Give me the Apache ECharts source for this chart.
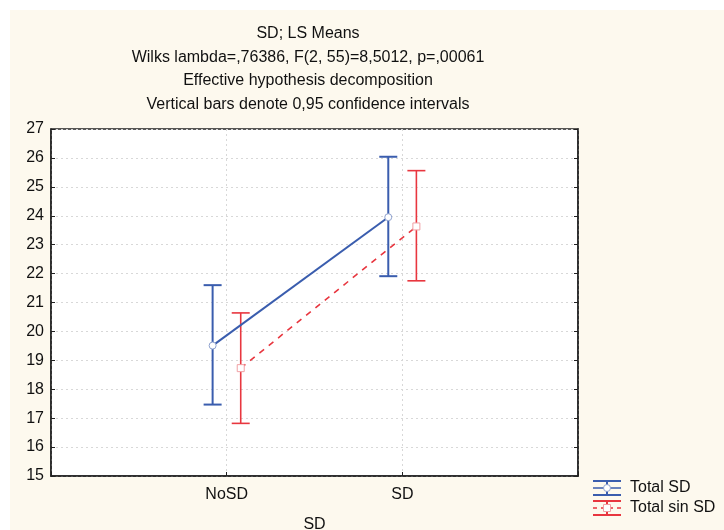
<!DOCTYPE html>
<html>
<head>
<meta charset="utf-8">
<script src="https://cdn.jsdelivr.net/npm/echarts@6/dist/echarts.min.js"></script>
<style>
html,body{margin:0;padding:0;background:#fff;}
#c{width:724px;height:530px;}
</style>
</head>
<body>
<div id="c"></div>
<script>
// ---- data ----
const categories = ['NoSD', 'SD'];
const seriesNames = ['Total SD', 'Total sin SD'];
const totalSDMean = [19.51, 23.95];
const totalSDLow = [17.47, 21.91];
const totalSDHigh = [21.60, 26.04];
const sinSDMean = [18.73, 23.63];
const sinSDLow = [16.82, 21.75];
const sinSDHigh = [20.64, 25.56];
const yTicks = [15, 16, 17, 18, 19, 20, 21, 22, 23, 24, 25, 26, 27];
const titleLines = [
  'SD; LS Means',
  'Wilks lambda=,76386, F(2, 55)=8,5012, p=,00061',
  'Effective hypothesis decomposition',
  'Vertical bars denote 0,95 confidence intervals'
];
const xAxisName = 'SD';

// ---- styles ----
const BLUE = '#3a5dae';
const RED = '#e8363f';
const FONT = '"Liberation Sans", Arial, sans-serif';
const FS = 16;
const OFFSET = 0.08; // horizontal dodge in category units

function pts(means, dir) {
  return means.map((m, i) => [i + 1 + dir * OFFSET, m]);
}
function bars(low, high, dir) {
  return low.map((l, i) => [i + 1 + dir * OFFSET, l, high[i]]);
}

function errRender(color, width) {
  return function (params, api) {
    const x = api.value(0);
    const lo = api.coord([x, api.value(1)]);
    const hi = api.coord([x, api.value(2)]);
    const hw = 9;
    const style = { stroke: color, lineWidth: width, fill: null };
    return {
      type: 'group',
      children: [
        { type: 'line', shape: { x1: lo[0], y1: lo[1], x2: hi[0], y2: hi[1] }, style },
        { type: 'line', shape: { x1: hi[0] - hw, y1: hi[1], x2: hi[0] + hw, y2: hi[1] }, style },
        { type: 'line', shape: { x1: lo[0] - hw, y1: lo[1], x2: lo[0] + hw, y2: lo[1] }, style }
      ]
    };
  };
}

const chart = echarts.init(document.getElementById('c'), null, { renderer: 'canvas' });

const legendX = 593, legendY = 488, legendGap = 20;
function legendIcon(y, color, dashed, symbol) {
  const s = { stroke: color, lineWidth: 2, fill: null };
  const children = [
    { type: 'line', shape: { x1: legendX, y1: y - 7, x2: legendX + 28, y2: y - 7 }, style: s },
    { type: 'line', shape: { x1: legendX, y1: y + 7, x2: legendX + 28, y2: y + 7 }, style: s },
    { type: 'line', shape: { x1: legendX + 14, y1: y - 7, x2: legendX + 14, y2: y + 7 }, style: s },
    { type: 'line', shape: { x1: legendX, y1: y, x2: legendX + 28, y2: y },
      style: { stroke: color, lineWidth: 1.5, lineDash: dashed ? [4, 4] : null } }
  ];
  if (symbol === 'circle') {
    children.push({ type: 'circle', shape: { cx: legendX + 14, cy: y, r: 3.5 }, style: { fill: '#fff', stroke: '#8fa2cf', lineWidth: 1 } });
  } else {
    children.push({ type: 'rect', shape: { x: legendX + 10.5, y: y - 3.5, width: 7, height: 7 }, style: { fill: '#fff', stroke: '#f0a0a4', lineWidth: 1 } });
  }
  return { type: 'group', children };
}

const option = {
  backgroundColor: '#fff',
  animation: false,
  title: {
    text: titleLines.join('\n'),
    left: 303,
    top: 17,
    textAlign: 'center',
    textStyle: { fontFamily: FONT, fontSize: FS, fontWeight: 'normal', color: '#111', lineHeight: 23.5 }
  },
  graphic: [
    { type: 'rect', z: -10, shape: { x: 10, y: 10, width: 714, height: 520 }, style: { fill: '#fdf9ee' } },
    legendIcon(legendY, BLUE, false, 'circle'),
    legendIcon(legendY + legendGap, RED, true, 'square'),
    { type: 'text', style: { x: legendX + 37, y: legendY, text: seriesNames[0], font: FS + 'px ' + FONT, fill: '#111', verticalAlign: 'middle' } },
    { type: 'text', style: { x: legendX + 37, y: legendY + legendGap, text: seriesNames[1], font: FS + 'px ' + FONT, fill: '#111', verticalAlign: 'middle' } }
  ],
  grid: {
    left: 51, top: 129, right: 146, bottom: 54,
    containLabel: false, outerBoundsMode: 'none',
    show: true, backgroundColor: '#fff', borderColor: '#222', borderWidth: 1.5
  },
  xAxis: {
    type: 'value', min: 0, max: categories.length + 1, interval: 1,
    name: xAxisName, nameLocation: 'middle', nameGap: 41,
    nameTextStyle: { fontFamily: FONT, fontSize: FS, color: '#111' },
    axisLine: { show: true, lineStyle: { color: '#222', width: 1.5 } },
    axisTick: { show: true, inside: true, length: 4, lineStyle: { color: '#222' } },
    axisLabel: {
      fontFamily: FONT, fontSize: FS, color: '#111', margin: 11,
      formatter: v => (v >= 1 && v <= categories.length && Number.isInteger(v)) ? categories[v - 1] : ''
    },
    splitLine: { show: true, lineStyle: { color: '#d8d8d8', type: [2, 3], width: 1 } }
  },
  yAxis: [{
    type: 'value', min: yTicks[0], max: yTicks[yTicks.length - 1], interval: 1,
    axisLine: { show: true, lineStyle: { color: '#222', width: 1.5 } },
    axisTick: { show: true, inside: true, length: 4, lineStyle: { color: '#222' } },
    axisLabel: { fontFamily: FONT, fontSize: FS, color: '#111', margin: 7 },
    splitLine: { show: true, lineStyle: { color: '#d8d8d8', type: [2, 3], width: 1 } }
  }, {
    type: 'value', position: 'right', min: yTicks[0], max: yTicks[yTicks.length - 1], interval: 1,
    axisLine: { show: true, lineStyle: { color: '#222', width: 1.5 } },
    axisTick: { show: true, inside: true, length: 4, lineStyle: { color: '#222' } },
    axisLabel: { show: false },
    splitLine: { show: false }
  }],
  series: [
    {
      name: seriesNames[0] + ' CI', type: 'custom', renderItem: errRender(BLUE, 2),
      data: bars(totalSDLow, totalSDHigh, -1), z: 2
    },
    {
      name: seriesNames[1] + ' CI', type: 'custom', renderItem: errRender(RED, 1.6),
      data: bars(sinSDLow, sinSDHigh, 1), z: 2
    },
    {
      name: seriesNames[0], type: 'line', data: pts(totalSDMean, -1), z: 3,
      lineStyle: { color: BLUE, width: 2 },
      symbol: 'circle', symbolSize: 7,
      itemStyle: { color: '#fff', borderColor: '#8fa2cf', borderWidth: 1 }
    },
    {
      name: seriesNames[1], type: 'line', data: pts(sinSDMean, 1), z: 3,
      lineStyle: { color: RED, width: 1.6, type: [6, 6] },
      symbol: 'rect', symbolSize: 7,
      itemStyle: { color: '#fff', borderColor: '#f0a0a4', borderWidth: 1 }
    }
  ]
};
chart.setOption(option);
</script>
</body>
</html>
